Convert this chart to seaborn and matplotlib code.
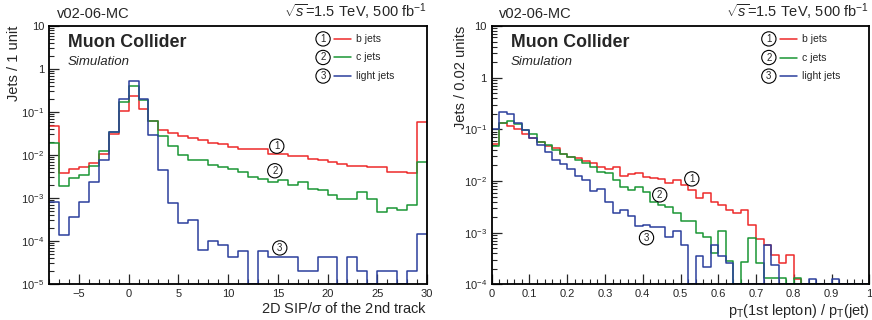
import numpy as np
import matplotlib
matplotlib.use("Agg")
import matplotlib.pyplot as plt
import seaborn as sns
from matplotlib.ticker import MultipleLocator, LogLocator, FuncFormatter, NullFormatter, FixedLocator

# Left panel: 2D SIP/sigma of the 2nd track, bins of 1 unit from -8 to 30
sip_edges = np.arange(-8, 31, 1)
sip_b = [0.047, 0.0039, 0.0047, 0.0054, 0.0064, 0.0105, 0.030, 0.107,
         0.23, 0.12, 0.063, 0.039, 0.033, 0.028, 0.025, 0.022, 0.019, 0.018,
         0.0155, 0.014, 0.0135, 0.0135, 0.0105, 0.0105, 0.0095, 0.0095, 0.0081, 0.0077,
         0.0069, 0.0061, 0.0056, 0.0056, 0.0054, 0.0054, 0.0040, 0.0040, 0.0038, 0.059]
sip_c = [0.019, 0.0019, 0.0029, 0.0034, 0.0055, 0.0126, 0.034, 0.17,
         0.41, 0.19, 0.063, 0.028, 0.016, 0.010, 0.0076, 0.0076, 0.0059, 0.0054,
         0.0047, 0.0041, 0.0030, 0.0028, 0.0023, 0.0026, 0.0020, 0.0024, 0.0016, 0.0015,
         0.0012, 0.00097, 0.00097, 0.0014, 0.00095, 0.00048, 0.0006, 0.00054, 0.00069, 0.0069]
sip_l = [8e-4, 1.4e-4, 3.7e-4, 8e-4, 0.0023, 0.0076, 0.034, 0.20,
         0.54, 0.20, 0.029, 0.0045, 7.8e-4, 2.6e-4, 3e-4, 6.2e-5, 1e-4, 8e-5,
         4.2e-5, 6e-5, 0, 6e-5, 4.2e-5, 4.2e-5, 4.2e-5, 2e-5, 2e-5, 4.2e-5,
         4.2e-5, 0, 4.2e-5, 2e-5, 0, 2e-5, 2e-5, 0, 2e-5, 1.45e-4]

# Right panel: pT(1st lepton)/pT(jet), bins of 0.02 from 0 to 1
frac_edges = np.linspace(0, 1, 51)
frac_b = [0.052, 0.13, 0.118, 0.10, 0.083, 0.069, 0.058, 0.048, 0.043, 0.033,
          0.029, 0.028, 0.024, 0.022, 0.019, 0.017, 0.019, 0.0127, 0.0137, 0.0146,
          0.012, 0.0115, 0.011, 0.0091, 0.0107, 0.0083, 0.0067, 0.0047, 0.0058, 0.0040,
          0.0035, 0.0028, 0.0024, 0.0027, 0.0014, 0.00075, 0.00058, 0.00037, 0.00026, 0.00037,
          0.000126, 0, 0, 0, 0, 0, 0, 0, 0, 0]
frac_c = [0.047, 0.135, 0.147, 0.126, 0.097, 0.081, 0.058, 0.050, 0.040, 0.033,
          0.029, 0.026, 0.022, 0.019, 0.015, 0.014, 0.0105, 0.0076, 0.0067, 0.0077,
          0.0062, 0.0040, 0.0035, 0.0032, 0.0024, 0.0017, 0.0017, 0.0010, 0.00081, 0.0004,
          0.0011, 0.00028, 0, 0.00027, 0.0008, 0.00026, 0.000135, 0.000135, 0.000135, 0,
          0.000135, 0, 0, 0, 0, 0, 0, 0, 0, 0]
frac_l = [0.10, 0.22, 0.20, 0.135, 0.097, 0.067, 0.050, 0.037, 0.026, 0.021,
          0.017, 0.0126, 0.0105, 0.0065, 0.0069, 0.0040, 0.0024, 0.0027, 0.0021, 0.00135,
          0.0014, 0.0013, 0.0013, 0.00082, 0.0011, 0.00057, 0, 0.00035, 0.00022, 0.00057,
          0.00035, 0.00026, 0, 0, 0, 0, 0.00057, 0.00024, 0, 0,
          0, 0, 0.00013, 0, 0, 0.00013, 0, 0, 0, 0]

labels = ["b jets", "c jets", "light jets"]
colors = ["#ee2a2a", "#1a9634", "#2b3f9c"]

sns.set_style("ticks")
plt.rcParams["font.family"] = ["Liberation Sans", "DejaVu Sans"]
plt.rcParams["mathtext.fontset"] = "custom"
plt.rcParams["mathtext.rm"] = "Liberation Sans"
plt.rcParams["mathtext.it"] = "Liberation Sans:italic"
plt.rcParams["mathtext.bf"] = "Liberation Sans:bold"


def log_label(v, pos):
    e = int(round(np.log10(v)))
    if e == 1:
        return "10"
    if e == 0:
        return "1"
    return r"$10^{%d}$" % e


def circled(ax, x, y, n, transform=None):
    ax.text(x, y, str(n), fontsize=7, ha="center", va="center",
            transform=transform if transform is not None else ax.transData,
            bbox=dict(boxstyle="circle,pad=0.22", fc="white", ec="black", lw=0.8), zorder=5)


def draw_panel(ax, edges, series, ymin, xlabel, ylabel, marks, leg_x):
    centers = 0.5 * (edges[:-1] + edges[1:])
    for vals, col in zip(series, colors):
        # empty bins sit on the lower axis edge, like in the original
        w = np.clip(np.asarray(vals, dtype=float), ymin, None)
        sns.histplot(x=centers, weights=w, bins=list(edges), element="step", fill=False,
                     color=col, linewidth=1.1, ax=ax)
    ax.set_yscale("log")
    ax.set_ylim(ymin, 10)
    ax.set_xlim(edges[0], edges[-1])

    decades = [10.0 ** e for e in range(int(round(np.log10(ymin))), 2)]
    ax.yaxis.set_major_locator(FixedLocator(decades))
    minors = [d * k for d in decades[:-1] for k in range(2, 10)]
    ax.yaxis.set_minor_locator(FixedLocator(minors))
    ax.yaxis.set_major_formatter(FuncFormatter(log_label))
    ax.yaxis.set_minor_formatter(NullFormatter())
    ax.tick_params(which="both", direction="in", top=False, right=False, labelsize=8)
    ax.tick_params(which="major", length=7, width=0.9)
    ax.tick_params(which="minor", length=3.5, width=0.8)
    for s in ax.spines.values():
        s.set_linewidth(1.3)
        s.set_color("black")

    ax.set_xlabel(xlabel, loc="right", fontsize=10.5)
    ax.set_ylabel(ylabel, loc="top", fontsize=10.5)

    ax.text(0.02, 1.02, "v02-06-MC", transform=ax.transAxes, fontsize=10.5,
            ha="left", va="bottom")
    ax.text(1.0, 1.015, r"$\sqrt{s}$=1.5 TeV, 500 fb$^{-1}$", transform=ax.transAxes,
            fontsize=10.5, ha="right", va="bottom")
    ax.text(0.05, 0.935, "Muon Collider", transform=ax.transAxes, fontsize=12.8,
            fontweight="bold", ha="left", va="center")
    ax.text(0.05, 0.86, "Simulation", transform=ax.transAxes, fontsize=9.5,
            style="italic", ha="left", va="center")

    for i, (lab, col) in enumerate(zip(labels, colors)):
        yy = 0.95 - 0.072 * i
        circled(ax, leg_x, yy, i + 1, transform=ax.transAxes)
        ax.plot([leg_x + 0.03, leg_x + 0.075], [yy, yy], color=col, lw=1.1,
                transform=ax.transAxes)
        ax.text(leg_x + 0.088, yy, lab, transform=ax.transAxes, fontsize=7.5,
                ha="left", va="center")

    for n, (mx, my) in enumerate(marks):
        circled(ax, mx, my, n + 1)


fig = plt.figure(figsize=(8.72, 3.2), dpi=100)
ax1 = fig.add_axes([49 / 872, 36 / 320, 378 / 872, 258 / 320])
ax2 = fig.add_axes([491.7 / 872, 35.6 / 320, 377.6 / 872, 258.4 / 320])

draw_panel(ax1, sip_edges, [sip_b, sip_c, sip_l], 1e-5,
           r"2D SIP/$\sigma$ of the 2nd track", "Jets / 1 unit",
           [(14.9, 0.016), (14.7, 0.0043), (15.2, 6.9e-5)], 0.725)
ax1.xaxis.set_major_locator(FixedLocator([-5, 0, 5, 10, 15, 20, 25, 30]))
ax1.xaxis.set_minor_locator(FixedLocator(list(range(-8, 31))))
ax1.xaxis.set_major_formatter(FuncFormatter(lambda v, p: f"{v:g}".replace("-", "\u2212")))
ax1.xaxis.set_label_coords(1.0, -0.065)
ax1.yaxis.set_label_coords(-0.074, 1.0)

draw_panel(ax2, frac_edges, [frac_b, frac_c, frac_l], 1e-4,
           r"p$_\mathrm{T}$(1st lepton) / p$_\mathrm{T}$(jet)", "Jets / 0.02 units",
           [(0.53, 0.011), (0.445, 0.0054), (0.41, 0.0008)], 0.734)
ax2.xaxis.set_major_locator(FixedLocator(np.round(np.arange(0, 1.01, 0.1), 2)))
ax2.xaxis.set_minor_locator(MultipleLocator(0.02))
ax2.xaxis.set_major_formatter(FuncFormatter(lambda v, p: f"{v:g}"))
ax2.xaxis.set_label_coords(1.0, -0.068)
ax2.yaxis.set_label_coords(-0.063, 1.0)

fig.savefig("out.png", dpi=100)
